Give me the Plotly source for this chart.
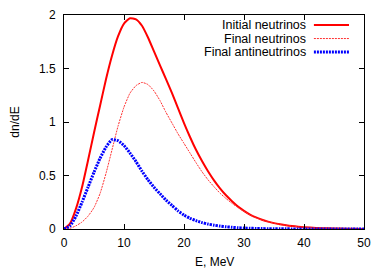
import plotly.graph_objects as go

E_vals = [0, 1, 2, 3, 4, 5, 6, 7, 8, 9, 10, 11, 12, 13, 14, 15, 16, 17, 18, 19, 20,
          21, 22, 23, 24, 25, 26, 27, 28, 29, 30, 31, 32, 33, 34, 35, 36, 37, 38, 39, 40,
          42, 44, 46, 48, 50]

initial_nu = [0, 0.05, 0.19, 0.39, 0.64, 0.90, 1.15, 1.40, 1.62, 1.80, 1.92, 1.97, 1.96, 1.90, 1.79,
              1.66, 1.53, 1.40, 1.27, 1.13, 0.99, 0.86, 0.74, 0.635, 0.54, 0.455, 0.38, 0.315, 0.26, 0.21,
              0.17, 0.135, 0.108, 0.087, 0.069, 0.055, 0.044, 0.035, 0.028, 0.022, 0.017,
              0.010, 0.006, 0.004, 0.002, 0.001]

final_nu = [0, 0.006, 0.03, 0.065, 0.12, 0.20, 0.33, 0.52, 0.74, 0.96, 1.14, 1.27, 1.34, 1.37, 1.35,
            1.29, 1.20, 1.09, 0.99, 0.89, 0.80, 0.71, 0.62, 0.535, 0.46, 0.395, 0.335, 0.285, 0.24, 0.20,
            0.165, 0.132, 0.105, 0.085, 0.068, 0.054, 0.043, 0.034, 0.027, 0.021, 0.017,
            0.010, 0.006, 0.004, 0.002, 0.001]

final_anti = [0, 0.03, 0.12, 0.25, 0.39, 0.53, 0.66, 0.765, 0.835, 0.825, 0.78, 0.71, 0.63, 0.54, 0.46,
              0.39, 0.33, 0.27, 0.22, 0.17, 0.13, 0.10, 0.078, 0.06, 0.046, 0.036, 0.027, 0.021, 0.016,
              0.012, 0.009, 0.007, 0.005, 0.004, 0.003, 0.0025, 0.002, 0.0015, 0.001, 0.0008, 0.0006,
              0.0003, 0.0002, 0.0001, 0.0, 0.0]

names = ["Initial neutrinos", "Final neutrinos", "Final antineutrinos"]
x_ticks = [0, 10, 20, 30, 40, 50]
y_ticks = [0, 0.5, 1, 1.5, 2]
y_tick_text = ["0", "0.5", "1", "1.5", "2"]
x_title = "E, MeV"
y_title = "dn/dE"

styles = [
    dict(color="#ff0000", width=2, dash="solid"),
    dict(color="#ff3030", width=1, dash="2px,1px"),
    dict(color="#0000ff", width=3, dash="2px,1px"),
]
series = [initial_nu, final_nu, final_anti]

fig = go.Figure()
for name, ys, st in zip(names, series, styles):
    fig.add_trace(go.Scatter(x=E_vals, y=ys, mode="lines", name=name,
                             line=dict(shape="spline", smoothing=0.5, **st),
                             showlegend=False))

font = dict(family="Liberation Sans, Arial, sans-serif", size=12, color="#000000")
leg_font = dict(family="Liberation Sans, Arial, sans-serif", size=12.5, color="#000000")

# legend drawn as text + sample lines (gnuplot style: text left of sample)
for i, (name, st) in enumerate(zip(names, styles)):
    yp = 0.953 - i * 0.063
    fig.add_annotation(x=0.81, y=yp, xref="paper", yref="paper", text=name,
                       showarrow=False, xanchor="right", yanchor="middle", font=leg_font,
                       borderpad=0)
    fig.add_shape(type="line", xref="paper", yref="paper", x0=0.833, x1=0.95, y0=yp, y1=yp,
                  line=st)

# x-axis title as annotation below the tick labels
fig.add_annotation(x=0.5, y=0, xref="paper", yref="paper", text=x_title, showarrow=False,
                   xanchor="center", yanchor="middle", yshift=-33, font=font)

axis_common = dict(showline=True, linecolor="#000000", linewidth=1, mirror="allticks",
                   ticks="inside", ticklen=5, tickcolor="#000000", showgrid=False,
                   zeroline=False, tickfont=font, automargin=False)

# page body has an 8px default margin, so the figure is sized/margined to compensate
fig.update_layout(
    width=380, height=263,
    margin=dict(l=56, r=24, t=7, b=42, autoexpand=False),
    paper_bgcolor="white", plot_bgcolor="white",
    font=font,
    xaxis=dict(range=[0, 50], tickvals=x_ticks, ticklabelstandoff=3, **axis_common),
    yaxis=dict(range=[0, 2], tickvals=y_ticks, ticktext=y_tick_text, ticklabelstandoff=5,
               title=dict(text=y_title, font=font, standoff=22), **axis_common),
)

fig.write_html("out.html")
